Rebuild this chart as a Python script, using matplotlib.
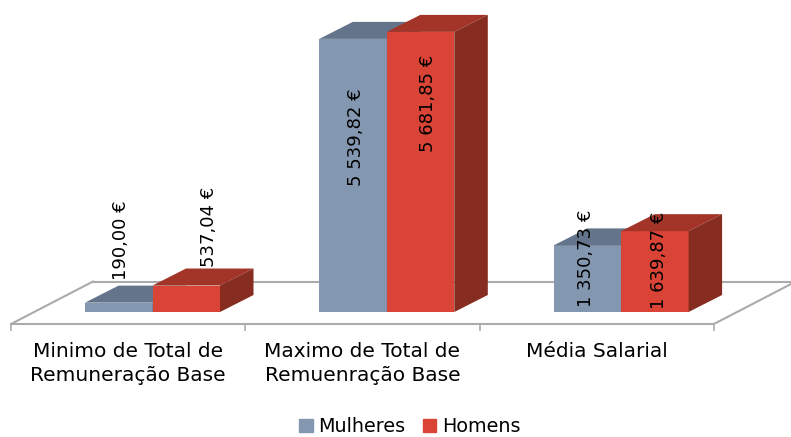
import matplotlib
matplotlib.use('Agg')
import matplotlib.pyplot as plt
from matplotlib.patches import Patch, Polygon

categories = ['Minimo de Total de\nRemuneração Base', 'Maximo de Total de\nRemuenração Base', 'Média Salarial']
mulheres = [190.00, 5539.82, 1350.73]
homens = [537.04, 5681.85, 1639.87]
mulheres_labels = ['190,00 €', '5 539,82 €', '1 350,73 €']
homens_labels = ['537,04 €', '5 681,85 €', '1 639,87 €']

# Label offsets from the bar's top centre, in pixels (placed by hand in the original)
mulheres_offsets = [(2.5, 62), (2.5, -98), (-1.5, -13)]
homens_offsets = [(23, 59), (7.5, -71), (4, -29)]

W, H = 791, 437
PX_PER_GROUP = 234.3
PX_PER_VALUE = 0.0493
AX_LEFT, AX_RIGHT, AX_TOP, AX_BOTTOM = 11, 791, 14, 324
BASELINE = 312

BAR_WIDTH = 67.5 / PX_PER_GROUP
BAR_CENTER = 141.5 / PX_PER_GROUP
DEPTH_X = 33.5 / PX_PER_GROUP
DEPTH_Y = 17 / PX_PER_VALUE
FLOOR_BACK = (BASELINE - 281.5) / PX_PER_VALUE
FLOOR_DX = 82 / PX_PER_GROUP
GRID = '#ABABAB'


def draw_bars(ax, xs, values, labels, offsets, front, top, side):
    """Draws one series as 3D-looking boxes with rotated labels."""
    for x, v in zip(xs, values):
        left, right = x - BAR_WIDTH / 2, x + BAR_WIDTH / 2
        ax.bar(x, v, BAR_WIDTH, color=front, zorder=3)
        ax.add_patch(Polygon([(left, v), (right, v), (right + DEPTH_X, v + DEPTH_Y), (left + DEPTH_X, v + DEPTH_Y)],
                             closed=True, facecolor=top, edgecolor='none', zorder=3))
        ax.add_patch(Polygon([(right, 0), (right + DEPTH_X, DEPTH_Y), (right + DEPTH_X, v + DEPTH_Y), (right, v)],
                             closed=True, facecolor=side, edgecolor='none', zorder=3))
    for x, v, label, off in zip(xs, values, labels, offsets):
        ax.annotate(label, xy=(x, v), xytext=off, textcoords='offset pixels', rotation=90,
                    ha='center', va='center', fontsize=13, color='black', zorder=5)


fig = plt.figure(figsize=(W / 100, H / 100), dpi=100)
ax = fig.add_axes([AX_LEFT / W, 1 - AX_BOTTOM / H, (AX_RIGHT - AX_LEFT) / W, (AX_BOTTOM - AX_TOP) / H])
ax.set_xlim(0, (AX_RIGHT - AX_LEFT) / PX_PER_GROUP)
ax.set_ylim((BASELINE - AX_BOTTOM) / PX_PER_VALUE, (BASELINE - AX_TOP) / PX_PER_VALUE)

# floor of the 3D chart
n = len(categories)
ymin = ax.get_ylim()[0]
ax.plot([0, FLOOR_DX], [ymin, FLOOR_BACK], color=GRID, lw=1.5, zorder=1)
ax.plot([FLOOR_DX, n + FLOOR_DX], [FLOOR_BACK, FLOOR_BACK], color=GRID, lw=1.5, zorder=1)
ax.plot([n, n + FLOOR_DX], [ymin, FLOOR_BACK], color=GRID, lw=1.5, zorder=1)

xs_m = [i + BAR_CENTER + BAR_WIDTH / 2 - BAR_WIDTH for i in range(n)]
xs_h = [i + BAR_CENTER + BAR_WIDTH / 2 for i in range(n)]
draw_bars(ax, xs_m, mulheres, mulheres_labels, mulheres_offsets, '#8497B0', '#64748A', '#64748A')
draw_bars(ax, xs_h, homens, homens_labels, homens_offsets, '#D94436', '#A23428', '#862C20')

for s in ['top', 'left', 'right']:
    ax.spines[s].set_visible(False)
ax.spines['bottom'].set_bounds(0, n)
ax.spines['bottom'].set_color(GRID)
ax.spines['bottom'].set_linewidth(1.5)
ax.set_yticks([])
ax.set_xticks([i + 0.5 for i in range(n)], categories, fontsize=14.5, linespacing=1.3)
ax.set_xticks(range(n + 1), minor=True)
ax.tick_params(axis='x', which='major', length=0, pad=13, colors='black')
ax.tick_params(axis='x', which='minor', length=5, width=1.2, color=GRID)
ax.patch.set_visible(False)

handles = [Patch(color='#8497B0', label='Mulheres'), Patch(color='#D94436', label='Homens')]
fig.legend(handles=handles, loc='lower center', bbox_to_anchor=(410 / W, -0.038), ncols=2, frameon=False,
           fontsize=13.8, handlelength=0.7, handleheight=0.7, handletextpad=0.3, columnspacing=0.9)

fig.savefig('out.png', dpi=100)
